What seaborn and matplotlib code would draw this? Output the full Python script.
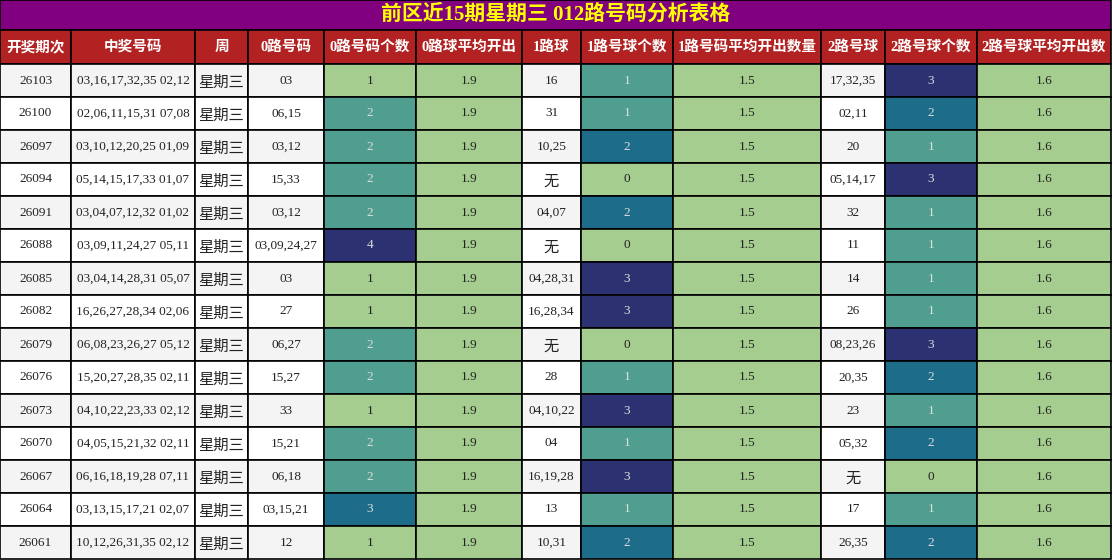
import numpy as np
import matplotlib.pyplot as plt
import seaborn as sns
from matplotlib.colors import Normalize

sns.set_theme(style="white")
plt.rcParams['font.family'] = ['Liberation Serif', 'Noto Sans CJK SC', 'DejaVu Sans']

title = '前区近15期星期三 012路号码分析表格'
headers = ['开奖期次', '中奖号码', '周', '0路号码', '0路号码个数', '0路球平均开出', '1路球',
           '1路号球个数', '1路号码平均开出数量', '2路号球', '2路号球个数', '2路号球平均开出数']

issues = ['26103', '26100', '26097', '26094', '26091', '26088', '26085', '26082', '26079',
          '26076', '26073', '26070', '26067', '26064', '26061']
numbers = ['03,16,17,32,35 02,12', '02,06,11,15,31 07,08', '03,10,12,20,25 01,09',
           '05,14,15,17,33 01,07', '03,04,07,12,32 01,02', '03,09,11,24,27 05,11',
           '03,04,14,28,31 05,07', '16,26,27,28,34 02,06', '06,08,23,26,27 05,12',
           '15,20,27,28,35 02,11', '04,10,22,23,33 02,12', '04,05,15,21,32 02,11',
           '06,16,18,19,28 07,11', '03,13,15,17,21 02,07', '10,12,26,31,35 02,12']
week = ['星期三'] * 15
r0_balls = ['03', '06,15', '03,12', '15,33', '03,12', '03,09,24,27', '03', '27', '06,27',
            '15,27', '33', '15,21', '06,18', '03,15,21', '12']
r0_count = [1, 2, 2, 2, 2, 4, 1, 1, 2, 2, 1, 2, 2, 3, 1]
r0_avg = [1.9] * 15
r1_balls = ['16', '31', '10,25', '无', '04,07', '无', '04,28,31', '16,28,34', '无', '28',
            '04,10,22', '04', '16,19,28', '13', '10,31']
r1_count = [1, 1, 2, 0, 2, 0, 3, 3, 0, 1, 3, 1, 3, 1, 2]
r1_avg = [1.5] * 15
r2_balls = ['17,32,35', '02,11', '20', '05,14,17', '32', '11', '14', '26', '08,23,26',
            '20,35', '23', '05,32', '无', '17', '26,35']
r2_count = [3, 2, 1, 3, 1, 1, 1, 1, 3, 2, 1, 2, 0, 1, 2]
r2_avg = [1.6] * 15

columns = [issues, numbers, week, r0_balls, r0_count, r0_avg, r1_balls, r1_count, r1_avg,
           r2_balls, r2_count, r2_avg]
numeric_cols = {4, 5, 7, 8, 10, 11}

xedges = [0, 71, 195, 248, 324, 416, 522, 581, 673, 821, 885, 977, 1111]
title_h, head_h, row_h = 30, 34, 33
W, H = 1112, 560

cmap = sns.color_palette("crest", as_cmap=True)

fig = plt.figure(figsize=(11.12, 5.6), dpi=100)
ax = fig.add_axes([0, 0, 1, 1])
ax.set_xlim(0, W)
ax.set_ylim(H, 0)
ax.axis('off')

def cell(x0, x1, y0, y1, fc):
    ax.add_patch(plt.Rectangle((x0, y0), x1 - x0, y1 - y0, facecolor=fc,
                               edgecolor='black', linewidth=1.2))

# title
cell(0, xedges[-1], 0, title_h, '#800080')
ax.text(xedges[-1] / 2, title_h / 2, title, ha='center', va='center', color='#ffff00',
        fontsize=15, fontweight='bold')

# header
for j, h in enumerate(headers):
    cell(xedges[j], xedges[j + 1], title_h, title_h + head_h, '#b22222')
    ax.text((xedges[j] + xedges[j + 1]) / 2, title_h + head_h / 2, h, ha='center',
            va='center', color='white', fontsize=10.5, fontweight='bold')

# body
y_start = title_h + head_h
for j, col in enumerate(columns):
    if j in numeric_cols:
        vals = np.array(col, dtype=float)
        lo, hi = vals.min(), vals.max()
        norm = Normalize(lo, hi if hi > lo else lo + 1)
    for i, v in enumerate(col):
        y0 = y_start + i * row_h
        x0, x1 = xedges[j], xedges[j + 1]
        if j in numeric_cols:
            t = norm(float(v))
            fc = cmap(t)
            tc = '#222222' if t < 0.2 else '#dddddd'
        else:
            fc = '#f4f4f4' if i % 2 == 0 else 'white'
            tc = '#222222'
        cell(x0, x1, y0, y0 + row_h, fc)
        fs = 11 if v in ('星期三', '无') else 9.5
        dy = 2.5 if v in ('星期三', '无') else 0
        ax.text((x0 + x1) / 2, y0 + row_h / 2 + dy, str(v), ha='center', va='center',
                color=tc, fontsize=fs)

fig.savefig('out.png', dpi=100)
